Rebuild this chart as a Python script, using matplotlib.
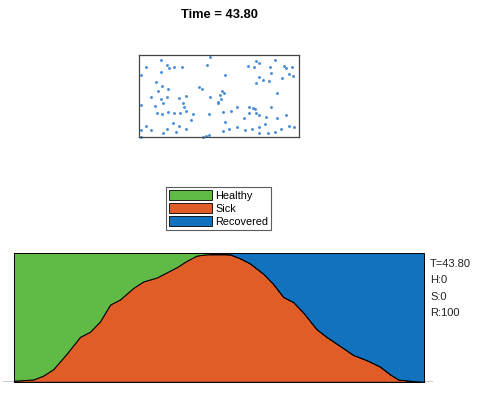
import matplotlib.pyplot as plt
import numpy as np
from matplotlib.patches import Patch

plt.rcParams['font.family'] = ['Liberation Sans', 'DejaVu Sans']

# people positions in the box
px = [22, 7, 28, 30, 35, 43, 71, 68, 22, 2, 17, 23, 60, 63, 29, 19, 12, 22, 28, 40,
      47, 44, 45, 47, 24, 16, 2, 71, 79, 29, 18, 23, 35, 41, 54, 70, 52, 34, 7, 28,
      40, 2, 12, 24, 37, 47, 64, 67, 70, 2, 117, 120, 136, 109, 115, 131, 145, 147, 153, 132,
      150, 154, 86, 120, 124, 130, 143, 117, 83, 85, 81, 138, 79, 82, 84, 92, 98, 110, 114, 116,
      117, 110, 120, 132, 127, 138, 147, 105, 86, 90, 84, 98, 106, 113, 120, 126, 129, 136, 142, 150,
      155, 120]
py = [77, 70, 72, 69, 70, 70, 80, 72, 65, 62, 55, 51, 50, 48, 48, 46, 40, 38, 40, 39,
      41, 34, 30, 26, 34, 31, 32, 40, 34, 25, 24, 23, 24, 24, 23, 23, 17, 14, 11, 8,
      11, 7, 7, 4, 5, 8, 0, 1, 2, 0, 76, 74, 77, 71, 70, 70, 71, 69, 70, 64,
      63, 61, 62, 60, 57, 56, 59, 54, 46, 44, 42, 44, 35, 38, 25, 26, 30, 30, 29, 28,
      24, 24, 22, 30, 20, 19, 22, 19, 15, 8, 6, 10, 7, 8, 10, 13, 4, 5, 8, 11,
      10, 4]

# time history (percent of population)
t = [0, 2.07, 3.13, 4.2, 5.63, 7.05, 8.12, 9.19, 10.26, 11.32, 12.75, 13.82, 15.24,
     16.31, 17.38, 18.45, 19.51, 20.58, 23.07, 24.14, 25.21, 26.63, 27.7, 28.77,
     29.84, 30.9, 32.33, 33.4, 34.83, 36.25, 37.68, 39.1, 40.17, 41.06, 42.3, 43.8]
sick = [1, 2, 5, 10, 22, 35, 39, 47, 60, 64, 73, 78, 81, 85, 89, 94, 98, 99,
        99, 96, 92, 84, 76, 66, 62, 54, 41, 35, 28, 21, 17, 12, 6, 2, 1, 0]
healthy = [99, 98, 95, 90, 78, 65, 61, 53, 40, 36, 27, 22, 19, 15, 11, 6, 2, 1,
           0, 0, 0, 0, 0, 0, 0, 0, 0, 0, 0, 0, 0, 0, 0, 0, 0, 0]
recovered = [0, 0, 0, 0, 0, 0, 0, 0, 0, 0, 0, 0, 0, 0, 0, 0, 0, 0,
             1, 4, 8, 16, 24, 34, 38, 46, 59, 65, 72, 79, 83, 88, 94, 98, 99, 100]

green = '#5fbb45'
orange = '#e05d27'
blue = '#1272be'

fig = plt.figure(figsize=(4.86, 3.96), dpi=100)
W, H = 486, 396

fig.text(219 / W, 1 - 15 / H, 'Time = 43.80', ha='center', va='center',
         fontsize=9.3, fontweight='bold')

ax1 = fig.add_axes([139 / W, 1 - 137 / H, 160 / W, 82 / H])
ax1.scatter(px, py, s=4.5, color='#4a90d8', clip_on=False, linewidths=0)
ax1.set_xlim(0, 160)
ax1.set_ylim(0, 82)
ax1.set_xticks([])
ax1.set_yticks([])
for s in ax1.spines.values():
    s.set_color('#444444')
    s.set_linewidth(0.9)

ax2 = fig.add_axes([3 / W, 1 - 382 / H, 430 / W, 129 / H])
ax2.stackplot(t, sick, healthy, recovered, colors=[orange, green, blue],
              edgecolor='k', linewidth=0.7)
ax2.axhline(0, color='k', lw=1)
ax2.set_xlim(-1.17, 44.76)
ax2.set_ylim(0, 100)
ax2.axis('off')
for a in ax2.collections:
    a.set_clip_on(False)

handles = [Patch(facecolor=green, edgecolor='k', lw=0.6, label='Healthy'),
           Patch(facecolor=orange, edgecolor='k', lw=0.6, label='Sick'),
           Patch(facecolor=blue, edgecolor='k', lw=0.6, label='Recovered')]
leg = fig.legend(handles=handles, loc='center', bbox_to_anchor=(218.5 / W, 1 - 208.5 / H),
                 fontsize=7.8, frameon=True, fancybox=False, handlelength=4.0,
                 handleheight=1.05, handletextpad=0.25, labelspacing=0.2,
                 borderpad=0.3, borderaxespad=0)
leg.get_frame().set_edgecolor('#333333')
leg.get_frame().set_linewidth(0.8)

labels = ['T=43.80', 'H:0', 'S:0', 'R:100']
for i, lab in enumerate(labels):
    fig.text(430 / W, 1 - (264 + 16.3 * i) / H, lab, ha='left', va='center',
             fontsize=8, color='#222222')

fig.savefig('out.png', dpi=100, facecolor='white')
